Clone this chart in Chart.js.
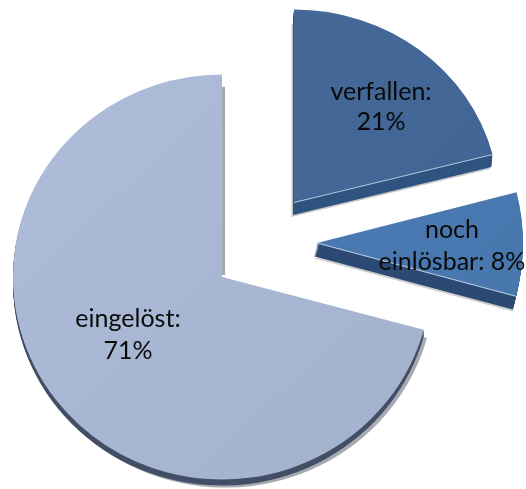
<!DOCTYPE html>
<html>
<head>
<meta charset="utf-8">
<style>html,body{margin:0;padding:0;background:#fff}canvas{display:block}</style>
<script src="https://cdn.jsdelivr.net/npm/chart.js@4"></script>
</head>
<body>
<canvas id="c" width="526" height="489"></canvas>
<script>
const categories = ['verfallen', 'noch einlösbar', 'eingelöst'];
const shares = [21, 8.2, 70.8];
const labelLines = [['verfallen:', '21%'], ['noch', 'einlösbar: 8%'], ['eingelöst:', '71%']];

const BASE_R = 200;
const looks = [
  {cx:294, cy:202.5, sx:1.025, sy:0.965, sweep:[-1,13], side:'#2f5481', top:['#466a9b','#3f6391'], bevel:'rgba(190,205,225,.9)', shadow:[-2.5,15,'rgba(130,130,130,.45)'], text:[381,92,122]},
  {cx:317, cy:243, sx:1.03, sy:1.02, sweep:[-3,13], side:'#2c4a73', top:['#4c7cb6','#4776ac'], bevel:'rgba(200,215,235,.9)', shadow:[-3,15,'rgba(130,130,130,.4)'], text:[452,230,262]},
  {cx:222, cy:277, sx:1.045, sy:1.0125, sweep:[0,6], side:'#434f66', top:['#adbdda','#a2b1cc'], bevel:null, shadow:[3,8,'rgba(120,125,135,.65)'], text:[128,319,351]}
];

const explodePlugin = {
  id: 'explode',
  afterDatasetsUpdate(chart) {
    chart.getDatasetMeta(0).data.forEach((arc, i) => {
      if (arc.__wrapped) return;
      arc.__wrapped = true;
      const look = looks[i];
      const original = arc.draw;
      arc.draw = function (ctx) {
        const {x, y, outerRadius: r, startAngle: a0, endAngle: a1} = this;
        const wedge = (rad) => { ctx.beginPath(); ctx.moveTo(x, y); ctx.arc(x, y, rad, a0, a1); ctx.closePath(); };
        ctx.save();
        ctx.translate(look.cx, look.cy);
        ctx.scale(look.sx, look.sy);
        ctx.translate(-x, -y);
        const big = a1 - a0 > Math.PI;
        // soft shadow
        ctx.save();
        if (big) {
          ctx.beginPath();
          ctx.moveTo(x, y);
          ctx.arc(x, y, r * 1.5, a0 + 0.01, a1);
          ctx.closePath();
          ctx.rect(x - 0.5, y - r + 12, 4, r - 14);
          ctx.clip();
        }
        ctx.translate(look.shadow[0], look.shadow[1]);
        wedge(r);
        ctx.fillStyle = look.shadow[2];
        ctx.fill();
        ctx.restore();
        // extruded side
        ctx.save();
        if (big) { wedge(r * 1.5); ctx.clip(); }
        ctx.fillStyle = look.side;
        const n = Math.max(Math.abs(look.sweep[0]), Math.abs(look.sweep[1]));
        for (let k = n; k > 0; k--) {
          ctx.save();
          ctx.translate(look.sweep[0] * k / n, look.sweep[1] * k / n);
          wedge(r);
          ctx.fill();
          ctx.restore();
        }
        ctx.restore();
        // top surface through the library's arc
        original.call(this, ctx);
        // bevel along the lower straight edge
        if (look.bevel) {
          ctx.beginPath();
          ctx.moveTo(x, y);
          ctx.lineTo(x + r * Math.cos(a1), y + r * Math.sin(a1));
          ctx.strokeStyle = look.bevel;
          ctx.lineWidth = 1;
          ctx.stroke();
        }
        ctx.restore();
      };
    });
  },
  afterDatasetsDraw(chart) {
    const ctx = chart.ctx;
    ctx.save();
    ctx.fillStyle = '#0a0a0a';
    ctx.font = '25px Lato';
    ctx.textAlign = 'center';
    ctx.textBaseline = 'middle';
    labelLines.forEach((lines, i) => {
      const t = looks[i].text;
      ctx.fillText(lines[0], t[0], t[1]);
      ctx.fillText(lines[1], t[0], t[2]);
    });
    ctx.restore();
  }
};

new Chart(document.getElementById('c'), {
  type: 'pie',
  data: {
    labels: categories,
    datasets: [{
      data: shares,
      borderWidth: 0,
      backgroundColor(context) {
        const look = looks[context.dataIndex];
        const {width, height} = context.chart;
        const g = context.chart.ctx.createLinearGradient(width / 2 - BASE_R, height / 2 - BASE_R, width / 2 + BASE_R, height / 2 + BASE_R);
        g.addColorStop(0, look.top[0]);
        g.addColorStop(1, look.top[1]);
        return g;
      }
    }]
  },
  options: {
    responsive: false,
    animation: false,
    radius: BASE_R,
    layout: {padding: 0},
    events: [],
    plugins: {legend: {display: false}, tooltip: {enabled: false}, title: {display: false}}
  },
  plugins: [explodePlugin]
});
</script>
</body>
</html>
